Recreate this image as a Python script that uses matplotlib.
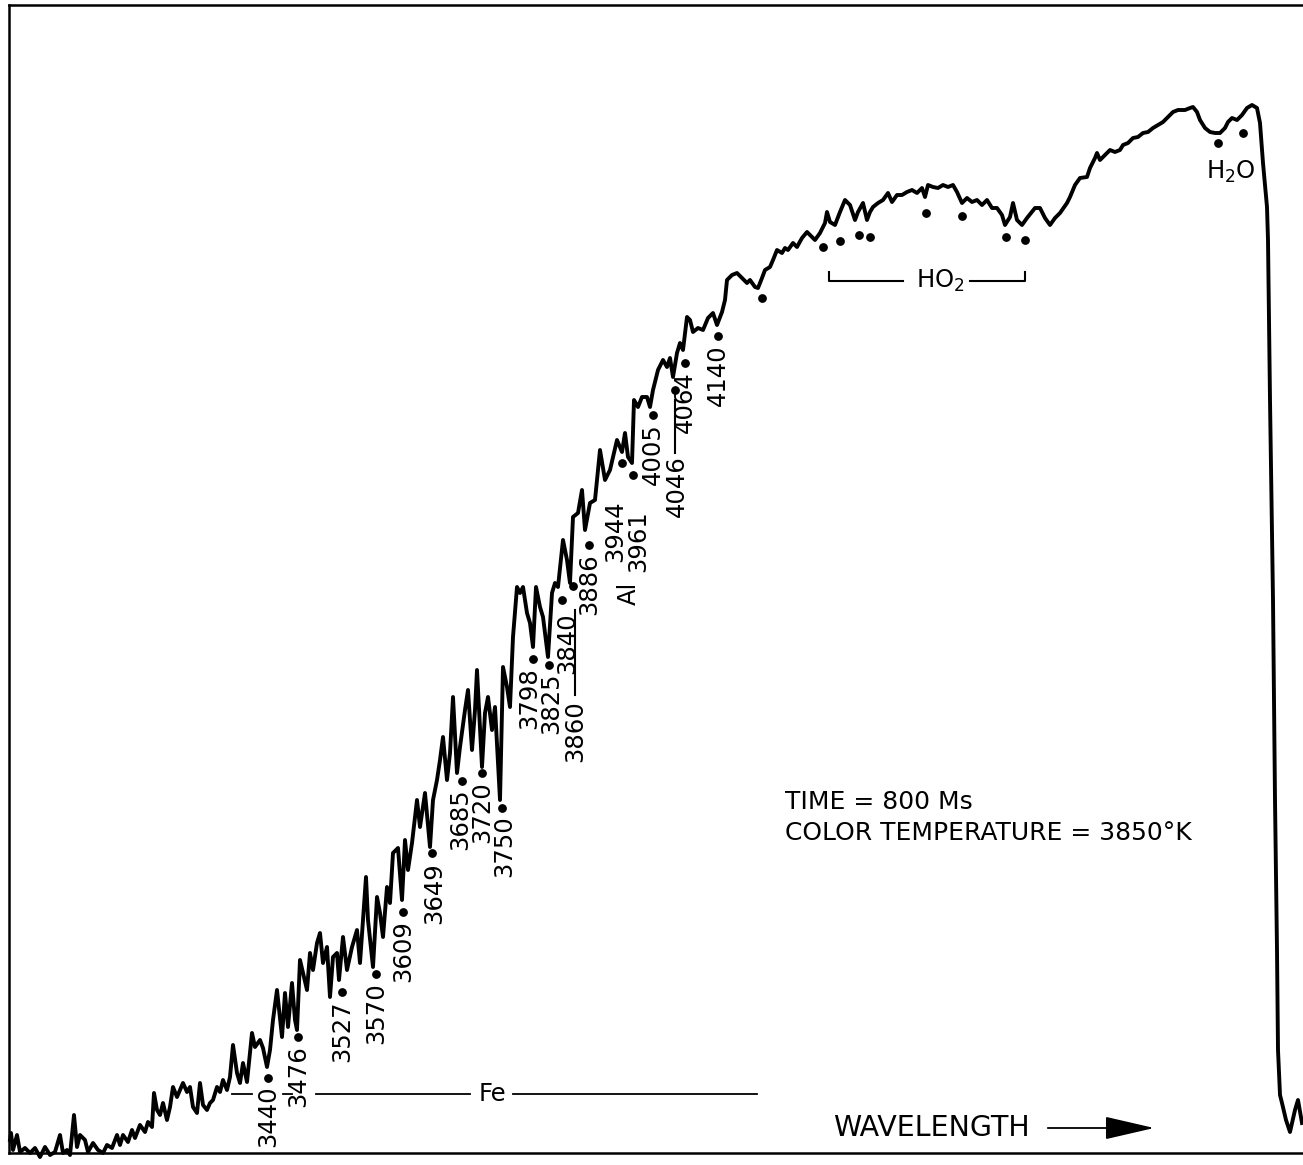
import matplotlib.pyplot as plt

plt.rcParams['font.family'] = ['DejaVu Sans']
plt.rcParams['mathtext.fontset'] = 'dejavusans'
plt.rcParams['mathtext.default'] = 'regular'

# spectrum trace: position along the wavelength axis (arbitrary units) and intensity
position = [
    10, 11, 13, 17, 20, 25, 30, 35, 40, 45, 50, 55, 60, 63, 67, 70, 74, 77, 80, 85,
    88, 93, 98, 103, 107, 112, 117, 120, 123, 128, 132, 135, 140, 145, 148, 152, 154, 157, 160, 163,
    167, 170, 173, 177, 180, 183, 187, 190, 193, 197, 200, 203, 207, 210, 213, 217, 220, 223, 227, 230,
    233, 237, 240, 243, 247, 252, 255, 260, 263, 267, 270, 273,
    277, 282, 285, 288, 292, 295, 297, 300, 303, 307, 310, 313, 317, 320, 323, 327, 330, 333, 337, 339,
    343, 347, 352, 357, 360, 366, 368, 373, 377, 380, 383, 387, 390, 393, 398, 402, 405, 408, 412, 417,
    420, 425, 430, 433, 437, 440,
    443, 447, 450, 453, 457, 460, 465, 468, 472, 475, 477, 482, 485, 488, 492, 495, 500, 503, 507, 510,
    513, 517, 520, 523, 527, 530, 533, 536, 540, 543, 548, 552, 555, 558, 563, 567, 570, 573, 578, 582,
    585, 590, 595, 600, 605, 610, 617, 622, 625, 628, 632, 634,
    638, 642, 647, 650, 653, 658, 663, 667, 670, 673, 677, 680, 683, 687, 690, 693, 698, 703, 708, 713,
    717, 722, 725,
    727, 732, 737, 742, 747, 750, 755, 758, 762, 765, 770, 773, 777, 782, 785, 788, 793, 797, 802, 807,
    812, 815, 820, 825, 827, 830, 835, 840, 845, 850, 855, 858, 863, 867, 870, 873, 878, 883, 888, 892,
    897, 902, 907, 912, 917, 922, 925, 928, 933, 938, 943, 948, 953, 957, 962, 967, 972, 977, 982, 987,
    992, 997, 1002, 1005, 1010, 1013, 1017, 1022, 1027,
    1035, 1040, 1045, 1050, 1055, 1060, 1067, 1070, 1075, 1080, 1087, 1090, 1095, 1097, 1100, 1105, 1110, 1115, 1120, 1123,
    1128, 1133, 1138, 1143, 1148, 1153, 1158, 1163, 1168, 1173, 1178, 1185, 1190, 1193, 1197, 1200, 1205, 1210, 1215, 1220,
    1225, 1228, 1232, 1237, 1242, 1247, 1252, 1257, 1260, 1263, 1267, 1268,
    1270, 1273, 1275, 1277, 1278, 1280, 1282, 1286, 1290, 1295, 1298, 1302,
]
intensity = [
    13, 20, 3, 18, 1, 5, 0, 5, -4, 6, -2, 1, 18, 0, 3, -2, 38, 6, 18, 13,
    1, 10, 3, 0, 8, 5, 18, 8, 18, 11, 23, 15, 28, 21, 31, 26, 60, 43, 38, 50,
    33, 46, 66, 56, 63, 70, 61, 66, 46, 40, 70, 48, 43, 50, 53, 66, 61, 73, 63, 76,
    108, 80, 70, 90, 71, 120, 106, 113, 105, 86, 103, 133,
    163, 116, 160, 126, 170, 133, 123, 193, 180, 163, 200, 183, 210, 220, 190, 206, 156, 196, 200, 173,
    216, 183, 206, 223, 190, 276, 233, 186, 256, 240, 216, 266, 250, 300, 305, 253, 313, 283, 310, 353,
    326, 360, 306, 353, 373, 393,
    416, 373, 400, 456, 380, 406, 443, 463, 403, 443, 483, 386, 440, 456, 423, 446, 353, 486, 466, 446,
    516, 566, 560, 566, 540, 530, 506, 566, 546, 536, 496, 560, 570, 566, 613, 593, 570, 636, 640, 663,
    623, 650, 653, 703, 673, 683, 713, 701, 720, 696, 690, 753,
    746, 756, 756, 746, 763, 783, 793, 786, 795, 776, 800, 810, 803, 836, 833, 821, 825, 823, 835, 840,
    828, 841, 853,
    873, 878, 880, 875, 870, 873, 866, 865, 875, 883, 886, 893, 903, 900, 905, 903, 910, 906, 915, 921,
    916, 913, 920, 930, 941, 931, 928, 941, 953, 948, 933, 941, 950, 933, 941, 946, 950, 953, 960, 951,
    958, 958, 961, 963, 960, 965, 956, 968, 966, 965, 968, 966, 968, 961, 950, 955, 951, 953, 948, 953,
    945, 945, 938, 928, 936, 950, 933, 928, 935,
    945, 945, 935, 928, 935, 940, 950, 956, 968, 975, 976, 985, 995, 1000, 993, 998, 1003, 1001, 1003, 1008,
    1010, 1015, 1016, 1020, 1021, 1025, 1028, 1031, 1036, 1041, 1043, 1043, 1045, 1046, 1041, 1033, 1025, 1021, 1020, 1020,
    1025, 1031, 1035, 1033, 1038, 1045, 1048, 1045, 1030, 990, 946, 913,
    753, 553, 353, 203, 103, 58, 50, 33, 21, 43, 53, 30,
]

# identified lines (wavelength in angstrom), marked with a dot under the trace
line_labels = ['3440', '3476', '3527', '3570', '3609', '3649', '3685', '3720', '3750',
               '3798', '3825', '3840', '3860', '3886', '3944', '3961', '4005', '4046',
               '4064', '4140', '']
line_x = [268, 298, 342, 376, 403, 432, 462, 482, 502,
          533, 549, 562, 573, 589, 622, 633, 653, 675,
          685, 718, 762]
line_y = [75, 116, 161, 179, 241, 300, 372, 380, 345,
          494, 488, 553, 567, 608, 690, 678, 738, 763,
          790, 817, 855]

# HO2 and H2O band dots
ho2_x = [823, 840, 859, 870, 926, 962, 1006, 1025]
ho2_y = [906, 912, 918, 916, 940, 937, 916, 913]
h2o_x = [1218, 1243]
h2o_y = [1010, 1020]

fig = plt.figure(figsize=(13.03, 11.65), dpi=100)
ax = fig.add_axes([9 / 1303, 12 / 1165, 1294 / 1303, 1148 / 1165])
ax.set_xlim(9, 1303)
ax.set_ylim(0, 1148)
ax.set_xticks([])
ax.set_yticks([])
for side in ['left', 'top', 'bottom']:
    ax.spines[side].set_linewidth(1.8)
ax.spines['right'].set_visible(False)

ax.plot(position, intensity, color='black', lw=2.8, solid_joinstyle='round', clip_on=False)

dot_x = line_x + ho2_x + h2o_x
dot_y = line_y + ho2_y + h2o_y
ax.scatter(dot_x, dot_y, s=28, color='black', zorder=3)

# vertical labels below the dots (some pushed down, two with leader lines)
shift = {'3440': (0, 7), '3840': (5, 12), '3860': (2, 114), '3944': (-7, 37),
         '3961': (5, 35), '4046': (2, 65), '3649': (2, 9), '3685': (-2, 7),
         '3750': (2, 7), '3798': (-4, 8), '3825': (2, 7)}
fs = 17.5
for lab, x, y in zip(line_labels, line_x, line_y):
    if not lab:
        continue
    dx, gap = shift.get(lab, (0, 8))
    ax.text(x + dx, y - gap, lab, rotation=90, ha='center', va='top', fontsize=fs)
ax.plot([575, 575], [543, 458], color='black', lw=1.5)
ax.plot([675, 675], [753, 700], color='black', lw=1.5)
ax.text(629, 560, 'Al', rotation=90, ha='center', va='center', fontsize=fs)

# Fe bracket line along the bottom
for x0, x1 in [(232, 252), (283, 292), (316, 470), (513, 757)]:
    ax.plot([x0, x1], [59, 59], color='black', lw=1.3)
ax.text(492, 59, 'Fe', ha='center', va='center', fontsize=fs)

# HO2 bracket
ax.plot([829, 829, 903], [881, 872, 872], color='black', lw=1.5)
ax.plot([970, 1025, 1025], [872, 872, 881], color='black', lw=1.5)
ax.text(940, 872, 'HO$_2$', ha='center', va='center', fontsize=fs)
ax.text(1231, 981, 'H$_2$O', ha='center', va='center', fontsize=fs)

ax.text(785, 351, 'TIME = 800 Ms', ha='left', va='center', fontsize=18)
ax.text(785, 320, 'COLOR TEMPERATURE = 3850°K', ha='left', va='center', fontsize=18)

ax.text(833, 25, 'WAVELENGTH', ha='left', va='center', fontsize=20.5)
ax.annotate('', xy=(1157, 25), xytext=(1045, 25),
            arrowprops=dict(arrowstyle='-|>,head_length=1.3,head_width=0.3',
                            lw=1.3, color='black', mutation_scale=24))

fig.savefig('out.png', dpi=100)
